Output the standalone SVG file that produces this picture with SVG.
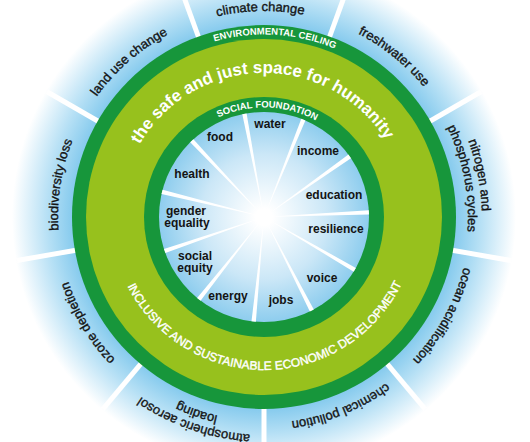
<svg xmlns="http://www.w3.org/2000/svg" xmlns:xlink="http://www.w3.org/1999/xlink" width="530" height="442" viewBox="0 0 530 442">
<style>
.outer{font-family:"Liberation Sans",Arial,sans-serif;font-size:13px;fill:#141414;stroke:#141414;stroke-width:0.35;}
.inner{font-family:"Liberation Sans",Arial,sans-serif;font-size:12px;font-weight:bold;fill:#141414;text-anchor:middle;}
.ring{font-family:"Liberation Sans",Arial,sans-serif;font-size:9.5px;font-weight:bold;fill:#ffffff;}
.big{font-family:"Liberation Sans",Arial,sans-serif;font-size:17px;font-weight:bold;fill:#ffffff;}
.eco{font-family:"Liberation Sans",Arial,sans-serif;font-size:12px;fill:#ffffff;stroke:#ffffff;stroke-width:0.4;}
.ospoke{stroke:#ffffff;stroke-width:5;}
</style>
<defs>
<radialGradient id="gOuter" cx="264" cy="217" r="252" gradientUnits="userSpaceOnUse">
<stop offset="0.74" stop-color="#7cc6ec"/>
<stop offset="0.86" stop-color="#b6e0f5"/>
<stop offset="1" stop-color="#ffffff"/>
</radialGradient>
<radialGradient id="gInner" cx="264" cy="217" r="105" gradientUnits="userSpaceOnUse">
<stop offset="0.08" stop-color="#ffffff"/>
<stop offset="0.6" stop-color="#cbe7f7"/>
<stop offset="1" stop-color="#8ecdee"/>
</radialGradient>
<path id="a206" d="M58,217 A206,206 0 0 1 470,217"/>
<path id="a204" d="M60,217 A204,204 0 0 1 468,217"/>
<path id="a218" d="M46,217 A218,218 0 0 1 482,217"/>
<path id="a182" d="M81.5,217 A182.5,182.5 0 0 1 446.5,217"/>
<path id="a109" d="M154.5,217 A109.5,109.5 0 0 1 373.5,217"/>
<path id="a144" d="M120,217 A144,144 0 0 1 408,217"/>
<path id="a153" d="M111,217 A153,153 0 0 0 417,217"/>
<polygon id="ispoke" points="264,217 261.8,112 266.2,112" fill="#ffffff"/>
<line id="ospk" x1="264" y1="26" x2="264" y2="-34" class="ospoke"/>
</defs>

<g id="background">
<circle cx="264" cy="217" r="252" fill="url(#gOuter)"/>
</g>

<g id="connectors">
<use xlink:href="#ospk" transform="rotate(20 264 217)"/>
<use xlink:href="#ospk" transform="rotate(60 264 217)"/>
<use xlink:href="#ospk" transform="rotate(100 264 217)"/>
<use xlink:href="#ospk" transform="rotate(140 264 217)"/>
<use xlink:href="#ospk" transform="rotate(180 264 217)"/>
<use xlink:href="#ospk" transform="rotate(220 264 217)"/>
<use xlink:href="#ospk" transform="rotate(260 264 217)"/>
<use xlink:href="#ospk" transform="rotate(300 264 217)"/>
<use xlink:href="#ospk" transform="rotate(340 264 217)"/>
</g>

<g id="rings">
<circle cx="264" cy="217" r="192" fill="#17963b"/>
<circle cx="264" cy="217" r="178" fill="#97c11d"/>
<circle cx="264" cy="217" r="120" fill="#17963b"/>
<circle cx="264" cy="217" r="105" fill="url(#gInner)"/>
</g>

<g id="inner-spokes">
<use xlink:href="#ispoke" transform="rotate(22 264 217)"/>
<use xlink:href="#ispoke" transform="rotate(54.727 264 217)"/>
<use xlink:href="#ispoke" transform="rotate(87.455 264 217)"/>
<use xlink:href="#ispoke" transform="rotate(120.182 264 217)"/>
<use xlink:href="#ispoke" transform="rotate(152.909 264 217)"/>
<use xlink:href="#ispoke" transform="rotate(185.636 264 217)"/>
<use xlink:href="#ispoke" transform="rotate(218.364 264 217)"/>
<use xlink:href="#ispoke" transform="rotate(251.091 264 217)"/>
<use xlink:href="#ispoke" transform="rotate(283.818 264 217)"/>
<use xlink:href="#ispoke" transform="rotate(316.545 264 217)"/>
<use xlink:href="#ispoke" transform="rotate(349.273 264 217)"/>
</g>

<g id="ring-labels">
<text class="ring" text-anchor="middle" transform="rotate(3.5 264 217)"><textPath xlink:href="#a182" startOffset="50%">ENVIRONMENTAL CEILING</textPath></text>
<text class="ring" text-anchor="middle" transform="rotate(1.8 264 217)"><textPath xlink:href="#a109" startOffset="50%">SOCIAL FOUNDATION</textPath></text>
<text class="big" text-anchor="middle" transform="rotate(-1 264 217)"><textPath xlink:href="#a144" startOffset="50%">the safe and just space for humanity</textPath></text>
<text class="eco" text-anchor="middle" transform="rotate(-0.5 264 217)"><textPath xlink:href="#a153" startOffset="50%">INCLUSIVE AND SUSTAINABLE ECONOMIC DEVELOPMENT</textPath></text>
</g>

<g id="boundary-climate"><text class="outer" text-anchor="middle" transform="rotate(-1 264 217)"><textPath xlink:href="#a206" startOffset="50%">climate change</textPath></text></g>
<g id="boundary-freshwater"><text class="outer" text-anchor="middle" transform="rotate(39 264 217)"><textPath xlink:href="#a206" startOffset="50%">freshwater use</textPath></text></g>
<g id="boundary-nitrogen">
<text class="outer" text-anchor="middle" transform="rotate(79 264 217)"><textPath xlink:href="#a218" startOffset="50%">nitrogen and</textPath></text>
<text class="outer" text-anchor="middle" transform="rotate(79 264 217)"><textPath xlink:href="#a204" startOffset="50%">phosphorus cycles</textPath></text>
</g>
<g id="boundary-ocean"><text class="outer" text-anchor="middle" transform="rotate(119 264 217)"><textPath xlink:href="#a206" startOffset="50%">ocean acidification</textPath></text></g>
<g id="boundary-chemical"><text class="outer" text-anchor="middle" transform="rotate(158 264 217)"><textPath xlink:href="#a206" startOffset="50%">chemical pollution</textPath></text></g>
<g id="boundary-aerosol">
<text class="outer" text-anchor="middle" transform="rotate(199 264 217)"><textPath xlink:href="#a218" startOffset="50%">atmospheric aerosol</textPath></text>
<text class="outer" text-anchor="middle" transform="rotate(199 264 217)"><textPath xlink:href="#a204" startOffset="50%">loading</textPath></text>
</g>
<g id="boundary-ozone"><text class="outer" text-anchor="middle" transform="rotate(239 264 217)"><textPath xlink:href="#a206" startOffset="50%">ozone depletion</textPath></text></g>
<g id="boundary-biodiversity"><text class="outer" text-anchor="middle" transform="rotate(279 264 217)"><textPath xlink:href="#a206" startOffset="50%">biodiversity loss</textPath></text></g>
<g id="boundary-landuse"><text class="outer" text-anchor="middle" transform="rotate(319 264 217)"><textPath xlink:href="#a206" startOffset="50%">land use change</textPath></text></g>

<g id="found-food"><text class="inner" x="220" y="141">food</text></g>
<g id="found-water"><text class="inner" x="270" y="128">water</text></g>
<g id="found-income"><text class="inner" x="318" y="155">income</text></g>
<g id="found-education"><text class="inner" x="334" y="199">education</text></g>
<g id="found-resilience"><text class="inner" x="336" y="233">resilience</text></g>
<g id="found-voice"><text class="inner" x="322" y="282">voice</text></g>
<g id="found-jobs"><text class="inner" x="281" y="304">jobs</text></g>
<g id="found-energy"><text class="inner" x="228" y="300">energy</text></g>
<g id="found-social-equity"><text class="inner" x="195" y="260">social</text><text class="inner" x="195" y="272">equity</text></g>
<g id="found-gender-equality"><text class="inner" x="186" y="215">gender</text><text class="inner" x="187" y="227">equality</text></g>
<g id="found-health"><text class="inner" x="192" y="178">health</text></g>
</svg>
